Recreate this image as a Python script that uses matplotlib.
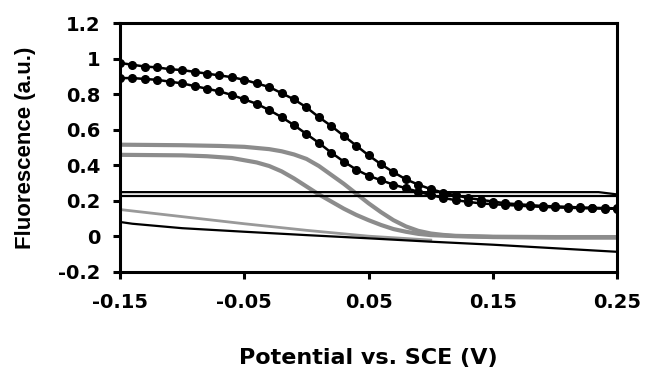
import numpy as np
import matplotlib
matplotlib.use("Agg")
import matplotlib.pyplot as plt

plt.rcParams['font.family'] = ['Liberation Sans', 'DejaVu Sans']

# ---- data ----
x_dots = [round(-0.15 + 0.01 * i, 2) for i in range(41)]
upper_dots = [0.975, 0.965, 0.955, 0.95, 0.94, 0.935, 0.925, 0.915, 0.905, 0.895,
              0.88, 0.86, 0.84, 0.805, 0.77, 0.725, 0.67, 0.62, 0.565, 0.51,
              0.455, 0.405, 0.36, 0.32, 0.29, 0.265, 0.245, 0.23, 0.215, 0.205,
              0.195, 0.185, 0.18, 0.175, 0.17, 0.168, 0.165, 0.162, 0.16, 0.158, 0.157]
lower_dots = [0.89, 0.89, 0.885, 0.88, 0.87, 0.86, 0.845, 0.83, 0.815, 0.795,
              0.77, 0.745, 0.71, 0.67, 0.625, 0.575, 0.525, 0.47, 0.42, 0.375,
              0.34, 0.315, 0.29, 0.27, 0.25, 0.232, 0.215, 0.203, 0.193, 0.185,
              0.18, 0.176, 0.172, 0.168, 0.165, 0.162, 0.16, 0.158, 0.156, 0.155, 0.154]

x_gray_up = [-0.15, -0.10, -0.07, -0.05, -0.03, -0.02, -0.01, 0.00, 0.01, 0.02, 0.03,
             0.04, 0.05, 0.06, 0.07, 0.08, 0.09, 0.10, 0.11, 0.12, 0.15, 0.20, 0.25]
gray_up = [0.515, 0.512, 0.508, 0.503, 0.49, 0.478, 0.46, 0.435, 0.395, 0.345, 0.295,
           0.24, 0.185, 0.135, 0.09, 0.055, 0.03, 0.015, 0.007, 0.002, -0.003, -0.005, -0.005]

x_gray_lo = [-0.15, -0.10, -0.08, -0.06, -0.04, -0.03, -0.02, -0.01, 0.00, 0.01, 0.02,
             0.03, 0.04, 0.05, 0.06, 0.07, 0.08, 0.09, 0.10, 0.12, 0.15, 0.20, 0.25]
gray_lo = [0.458, 0.455, 0.45, 0.44, 0.415, 0.395, 0.365, 0.325, 0.28, 0.235, 0.195,
           0.155, 0.12, 0.09, 0.063, 0.04, 0.025, 0.013, 0.006, 0.0, -0.005, -0.008, -0.008]

x_black = [-0.15, -0.14, -0.10, -0.05, 0.00, 0.05, 0.10, 0.15, 0.20, 0.25]
black_line = [0.08, 0.07, 0.045, 0.025, 0.006, -0.012, -0.031, -0.048, -0.068, -0.088]

x_thin_gray = [-0.15, -0.10, -0.05, 0.00, 0.05, 0.10]
thin_gray = [0.15, 0.11, 0.07, 0.033, 0.0, -0.022]

x_flat_up = [-0.15, 0.235, 0.25]
flat_up = [0.248, 0.248, 0.235]
x_flat_lo = [-0.15, 0.25]
flat_lo = [0.224, 0.224]

xticks = [-0.15, -0.05, 0.05, 0.15, 0.25]
xticklabels = ['-0.15', '-0.05', '0.05', '0.15', '0.25']
yticks = [-0.2, 0, 0.2, 0.4, 0.6, 0.8, 1, 1.2]
yticklabels = ['-0.2', '0', '0.2', '0.4', '0.6', '0.8', '1', '1.2']

# ---- figure ----
fig = plt.figure(figsize=(6.45, 3.74), dpi=100)
ax = fig.add_axes([0.186, 0.2735, 0.771, 0.665])

gray = '#8c8c8c'
ax.plot(x_gray_up, gray_up, color=gray, lw=3.0, solid_capstyle='butt', zorder=2)
ax.plot(x_gray_lo, gray_lo, color=gray, lw=3.0, solid_capstyle='butt', zorder=2)
ax.plot(x_thin_gray, thin_gray, color='#999999', lw=2.0, zorder=2)
ax.plot(x_black, black_line, color='black', lw=1.6, zorder=3)
ax.plot(x_flat_up, flat_up, color='black', lw=1.6, zorder=3)
ax.plot(x_flat_lo, flat_lo, color='black', lw=1.6, zorder=3)
ax.plot(x_dots, upper_dots, color='black', lw=1.8, marker='o', markersize=5.5, zorder=4)
ax.plot(x_dots, lower_dots, color='black', lw=1.8, marker='o', markersize=5.5, zorder=4)

ax.set_xlim(-0.15, 0.25)
ax.set_ylim(-0.2, 1.2)
ax.set_xticks(xticks)
ax.set_yticks(yticks)
wide = ['DejaVu Sans']
ax.set_xticklabels(xticklabels, family=wide, fontweight='bold', fontsize=14)
ax.set_yticklabels(yticklabels, family=wide, fontweight='bold', fontsize=14)

for s in ax.spines.values():
    s.set_linewidth(2.2)
ax.tick_params(direction='out', length=5, width=2.2)
ax.tick_params(axis='y', pad=9)
ax.tick_params(axis='x', pad=10)

ax.set_xlabel('Potential vs. SCE (V)', family=wide, fontsize=16, fontweight='bold', labelpad=26)
ax.set_ylabel('Fluorescence (a.u.)', family=['Liberation Sans'], fontsize=16, fontweight='bold', labelpad=16)

fig.savefig('out.png', dpi=100)
